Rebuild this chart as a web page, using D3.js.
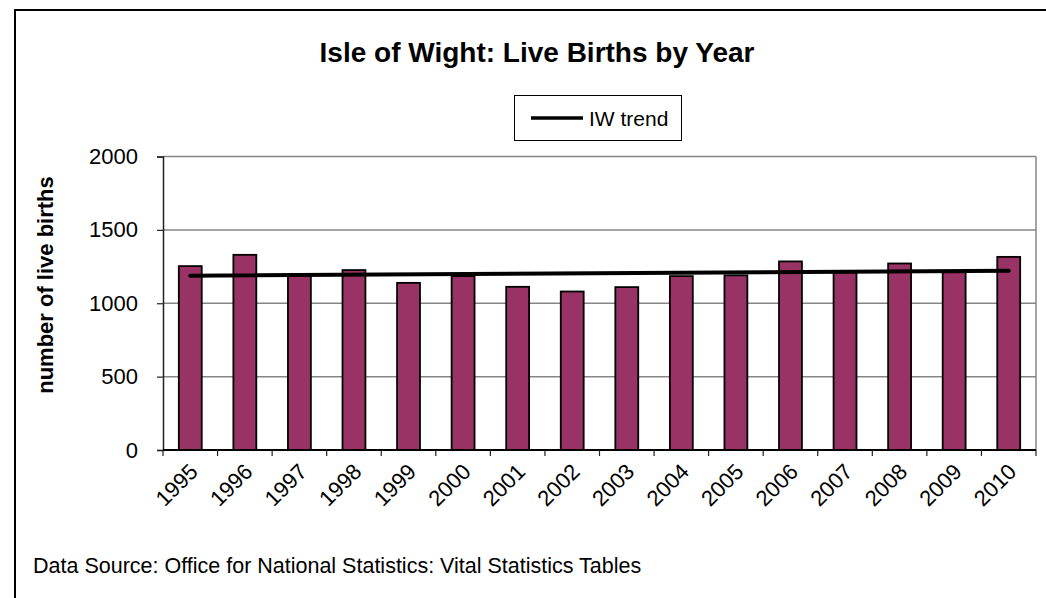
<!DOCTYPE html>
<html>
<head>
<meta charset="utf-8">
<script src="https://cdn.jsdelivr.net/npm/d3@7"></script>
<style>
  body { margin: 0; background: #fff; }
  text { font-family: "Liberation Sans", Arial, sans-serif; }
</style>
</head>
<body>
<div id="chart"></div>
<script>
// data
var years = ["1995", "1996", "1997", "1998", "1999", "2000", "2001", "2002",
             "2003", "2004", "2005", "2006", "2007", "2008", "2009", "2010"];
var births = [1253, 1330, 1188, 1226, 1139, 1185, 1112, 1080,
              1110, 1185, 1190, 1285, 1210, 1271, 1211, 1316];
var trendYears = ["1995", "2010"];
var trendValues = [1188, 1221];
var yTicks = [0, 500, 1000, 1500, 2000];

var title = "Isle of Wight: Live Births by Year";
var yAxisTitle = "number of live births";
var legendLabel = "IW trend";
var sourceNote = "Data Source: Office for National Statistics: Vital Statistics Tables";

// size settings
var tot_width = 1046, tot_height = 598;
var margin = {top: 156.5, right: 10, bottom: 148, left: 163};

var svg = d3.select("#chart").append("svg")
    .attr("width", tot_width)
    .attr("height", tot_height);

var width = tot_width - margin.left - margin.right,
    height = tot_height - margin.top - margin.bottom;

// outer frame (runs off the right and bottom edge)
svg.append("rect")
    .attr("x", 15).attr("y", 10)
    .attr("width", tot_width + 20).attr("height", tot_height + 20)
    .attr("fill", "#fff")
    .attr("stroke", "#000")
    .attr("stroke-width", 2);

var g = svg.append("g")
    .attr("transform", "translate(" + margin.left + "," + margin.top + ")");

var x = d3.scaleBand()
    .domain(years)
    .range([0, width])
    .paddingInner(0.58)
    .paddingOuter(0.29);

var y = d3.scaleLinear()
    .domain([0, 2000])
    .range([height, 0]);

// gridlines
g.selectAll("line.grid")
  .data(yTicks.slice(1))
  .enter()
    .append("line")
      .attr("class", "grid")
      .attr("x1", 0).attr("x2", width)
      .attr("y1", function(d) { return y(d); })
      .attr("y2", function(d) { return y(d); })
      .attr("stroke", "#868686")
      .attr("stroke-width", 1.5);

// right border of plot area
g.append("line")
    .attr("x1", width).attr("x2", width)
    .attr("y1", 0).attr("y2", height)
    .attr("stroke", "#868686")
    .attr("stroke-width", 1.5);

// bars
g.selectAll("rect.bar")
  .data(births)
  .enter()
    .append("rect")
      .attr("class", "bar")
      .attr("x", function(d, i) { return x(years[i]); })
      .attr("width", x.bandwidth())
      .attr("y", function(d) { return y(d); })
      .attr("height", function(d) { return y(0) - y(d); })
      .attr("fill", "#993366")
      .attr("stroke", "#000")
      .attr("stroke-width", 1.8);

// trend line
var line = d3.line()
    .x(function(d, i) { return x(trendYears[i]) + x.bandwidth() / 2; })
    .y(function(d) { return y(d); });

g.append("path")
    .datum(trendValues)
    .attr("d", line)
    .attr("fill", "none")
    .attr("stroke", "#000")
    .attr("stroke-width", 4)
    .attr("stroke-linecap", "round");

// AXIS
var yAxis = g.append("g")
    .attr("class", "y-axis")
    .call(d3.axisLeft(y).tickValues(yTicks).tickFormat(d3.format("d")).tickSize(6).tickPadding(19));
yAxis.select(".domain").attr("stroke", "#222").attr("stroke-width", 1.5);
yAxis.selectAll(".tick line").attr("stroke", "#222").attr("stroke-width", 1.2);
yAxis.selectAll(".tick text")
    .attr("font-size", "22px")
    .attr("fill", "#000");

// x axis: ticks sit on the category boundaries
var xBounds = d3.scaleLinear().domain([0, years.length]).range([0, width]);
var xAxis = g.append("g")
    .attr("class", "x-axis")
    .attr("transform", "translate(0," + height + ")");
xAxis.append("line")
    .attr("x1", 0).attr("x2", width)
    .attr("stroke", "#000").attr("stroke-width", 1.8);
xAxis.selectAll("line.tick")
  .data(d3.range(years.length + 1))
  .enter()
    .append("line")
      .attr("class", "tick")
      .attr("x1", function(d) { return xBounds(d); })
      .attr("x2", function(d) { return xBounds(d); })
      .attr("y1", 0).attr("y2", 6)
      .attr("stroke", "#222").attr("stroke-width", 1.2);
xAxis.selectAll("text")
  .data(years)
  .enter()
    .append("text")
      .attr("transform", function(d) {
        return "translate(" + (x(d) + x.bandwidth() / 2 + 9) + ",23) rotate(-45)";
      })
      .attr("text-anchor", "end")
      .attr("font-size", "22px")
      .attr("fill", "#000")
      .text(function(d) { return d; });

// titles
svg.append("text")
    .attr("x", 537).attr("y", 62)
    .attr("text-anchor", "middle")
    .attr("font-size", "28px")
    .attr("font-weight", "bold")
    .text(title);

svg.append("text")
    .attr("transform", "translate(53,285) rotate(-90)")
    .attr("text-anchor", "middle")
    .attr("font-size", "22px")
    .attr("font-weight", "bold")
    .text(yAxisTitle);

svg.append("text")
    .attr("x", 33).attr("y", 573)
    .attr("font-size", "21.5px")
    .text(sourceNote);

// LEGEND
var legend = svg.append("g").attr("class", "legend");
legend.append("rect")
    .attr("x", 514.5).attr("y", 95.5)
    .attr("width", 167).attr("height", 45)
    .attr("fill", "#fff")
    .attr("stroke", "#000")
    .attr("stroke-width", 1);
legend.append("line")
    .attr("x1", 531).attr("x2", 583)
    .attr("y1", 118).attr("y2", 118)
    .attr("stroke", "#000").attr("stroke-width", 3.5);
legend.append("text")
    .attr("x", 589).attr("y", 126)
    .attr("font-size", "21px")
    .text(legendLabel);
</script>
</body>
</html>
